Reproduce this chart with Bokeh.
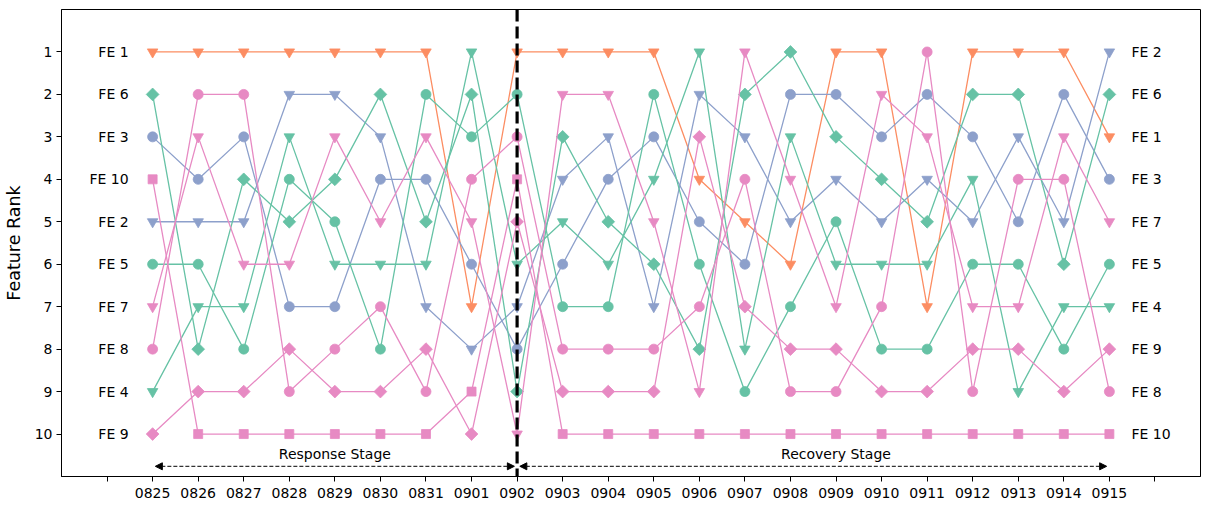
import numpy as np
from bokeh.plotting import figure
from bokeh.models import Range1d, FixedTicker, Arrow, NormalHead, Span
from bokeh.embed import file_html
from bokeh.resources import INLINE
from bokeh.core.properties import value

# ---------------- data ----------------
dates = ["0825", "0826", "0827", "0828", "0829", "0830", "0831", "0901",
         "0902", "0903", "0904", "0905", "0906", "0907", "0908", "0909",
         "0910", "0911", "0912", "0913", "0914", "0915"]

features = ["FE 1", "FE 2", "FE 3", "FE 4", "FE 5",
            "FE 6", "FE 7", "FE 8", "FE 9", "FE 10"]

rank_fe1 = [1, 1, 1, 1, 1, 1, 1, 7, 1, 1, 1, 1, 4, 5, 6, 1, 1, 7, 1, 1, 1, 3]
rank_fe2 = [5, 5, 5, 2, 2, 3, 7, 8, 7, 4, 3, 7, 2, 3, 5, 4, 5, 4, 5, 3, 5, 1]
rank_fe3 = [3, 4, 3, 7, 7, 4, 4, 6, 8, 6, 4, 3, 5, 6, 2, 2, 3, 2, 3, 5, 2, 4]
rank_fe4 = [9, 7, 7, 3, 6, 6, 6, 1, 6, 5, 6, 4, 1, 8, 3, 6, 6, 6, 4, 9, 7, 7]
rank_fe5 = [6, 6, 8, 4, 5, 8, 2, 3, 2, 7, 7, 2, 6, 9, 7, 5, 8, 8, 6, 6, 8, 6]
rank_fe6 = [2, 8, 4, 5, 4, 2, 5, 2, 9, 3, 5, 6, 8, 2, 1, 3, 4, 5, 2, 2, 6, 2]
rank_fe7 = [7, 3, 6, 6, 3, 5, 3, 5, 10, 2, 2, 5, 9, 1, 4, 7, 2, 3, 7, 7, 3, 5]
rank_fe8 = [8, 2, 2, 9, 8, 7, 9, 4, 3, 8, 8, 8, 7, 4, 9, 9, 7, 1, 9, 4, 4, 9]
rank_fe9 = [10, 9, 9, 8, 9, 9, 8, 10, 5, 9, 9, 9, 3, 7, 8, 8, 9, 9, 8, 8, 9, 8]
rank_fe10 = [4, 10, 10, 10, 10, 10, 10, 9, 4, 10, 10, 10, 10, 10, 10, 10,
             10, 10, 10, 10, 10, 10]

ranks = [rank_fe1, rank_fe2, rank_fe3, rank_fe4, rank_fe5,
         rank_fe6, rank_fe7, rank_fe8, rank_fe9, rank_fe10]

rank_ticks = [1, 2, 3, 4, 5, 6, 7, 8, 9, 10]

stage_names = ["Response Stage", "Recovery Stage"]
stage_start = ["0825", "0902"]
stage_end = ["0902", "0915"]
stage_text_at = [5, 16]
split_date = "0902"

# ---------------- styles ----------------
GREEN, ORANGE, BLUE, PINK = "#66c2a5", "#fc8d62", "#8da0cb", "#e78ac3"
style = {
    "FE 1": (ORANGE, "inverted_triangle", 10.5, 0.0),
    "FE 2": (BLUE, "inverted_triangle", 10.5, 0.0),
    "FE 3": (BLUE, "circle", 10, 0.0),
    "FE 4": (GREEN, "inverted_triangle", 10.5, 0.0),
    "FE 5": (GREEN, "circle", 10, 0.0),
    "FE 6": (GREEN, "square", 9, np.pi / 4),
    "FE 7": (PINK, "inverted_triangle", 10.5, 0.0),
    "FE 8": (PINK, "circle", 10, 0.0),
    "FE 9": (PINK, "square", 9, np.pi / 4),
    "FE 10": (PINK, "square", 9, 0.0),
}
FONT = "DejaVu Sans"
FS = "14px"

xpos = list(range(1, len(dates) + 1))

p = figure(frame_width=1139, frame_height=467,
           x_range=Range1d(-1, len(dates) + 2), y_range=Range1d(11, 0),
           output_backend="svg", toolbar_location=None,
           min_border_left=54, min_border_top=9, min_border_right=2,
           min_border_bottom=26)

p.xgrid.visible = False
p.ygrid.visible = False
p.outline_line_color = "black"
p.outline_line_width = 1
p.background_fill_color = "white"

p.xaxis.ticker = FixedTicker(ticks=list(range(0, len(dates) + 2)))
overrides = {0: "", len(dates) + 1: ""}
for i, d in enumerate(dates):
    overrides[xpos[i]] = d
p.xaxis.major_label_overrides = overrides
p.yaxis.ticker = FixedTicker(ticks=rank_ticks)
p.yaxis.axis_label = "Feature Rank"

for ax in (p.xaxis, p.yaxis):
    ax.major_tick_out = 5
    ax.major_tick_in = 0
    ax.minor_tick_out = 0
    ax.minor_tick_in = 0
    ax.major_label_text_font = FONT
    ax.major_label_text_font_size = FS
    ax.major_label_text_color = "black"
    ax.major_tick_line_color = "black"
    ax.axis_line_color = "black"
    ax.major_label_standoff = 4
p.xaxis.major_label_standoff = 6
p.yaxis.axis_label_text_font = FONT
p.yaxis.axis_label_text_font_size = "17.5px"
p.yaxis.axis_label_text_font_style = "normal"
p.yaxis.axis_label_text_color = "black"
p.yaxis.axis_label_standoff = 8

for name, r in zip(features, ranks):
    color, marker, size, angle = style[name]
    p.line(xpos, r, line_color=color, line_width=1.3)
    p.scatter(xpos, r, marker=marker, size=size, angle=angle,
              fill_color=color, line_color=color, line_width=0.8)

# side labels
p.text(x=[xpos[0]] * len(features), y=[r[0] for r in ranks], text=features,
       x_offset=-24, text_align="right", text_baseline="middle",
       text_font=value(FONT), text_font_size=FS, text_color="black")
p.text(x=[xpos[-1]] * len(features), y=[r[-1] for r in ranks], text=features,
       x_offset=22, text_align="left", text_baseline="middle",
       text_font=value(FONT), text_font_size=FS, text_color="black")

# stage arrows
for nm, s, e, tx in zip(stage_names, stage_start, stage_end, stage_text_at):
    xs = xpos[dates.index(s)] + 0.06
    xe = xpos[dates.index(e)] - 0.06
    p.add_layout(Arrow(x_start=xs, y_start=10.76, x_end=xe, y_end=10.76,
                       line_color="black", line_width=1, line_dash="4 2",
                       start=NormalHead(size=7, fill_color="black", line_color="black", line_width=1),
                       end=NormalHead(size=7, fill_color="black", line_color="black", line_width=1)))
    p.text(x=[tx], y=[10.47], text=[nm], text_align="center", text_baseline="middle",
           text_font=value(FONT), text_font_size=FS, text_color="black")

p.add_layout(Span(location=xpos[dates.index(split_date)], dimension="height",
                  line_color="black", line_width=3.2, line_dash="12 5"))

open("out.html", "w").write(file_html(p, INLINE))
